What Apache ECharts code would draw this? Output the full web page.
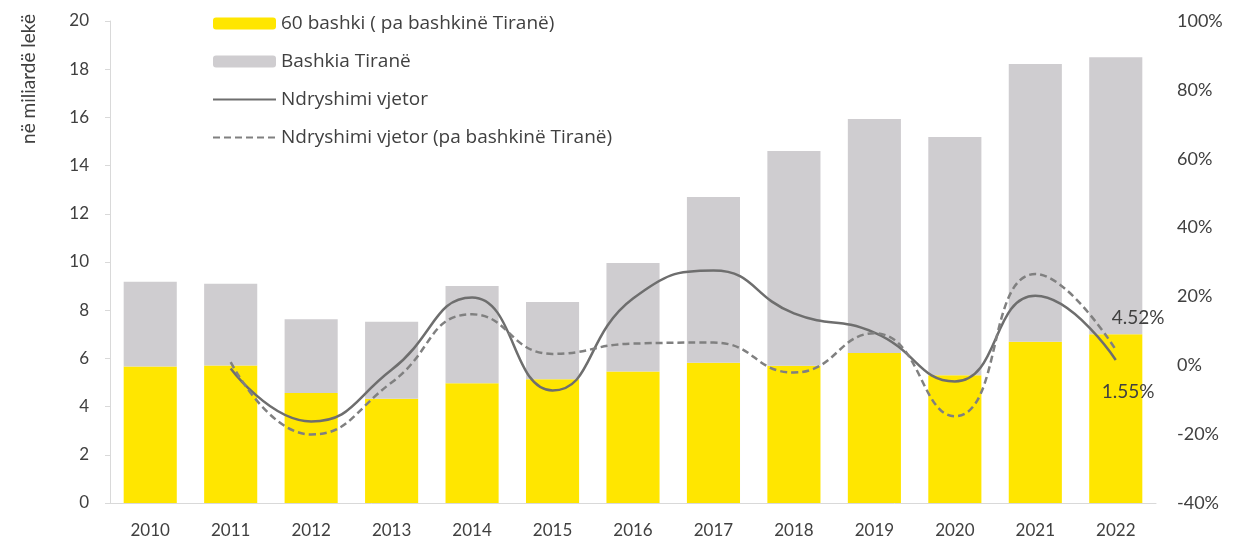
<!DOCTYPE html>
<html>
<head>
<meta charset="utf-8">
<script src="https://cdn.jsdelivr.net/npm/echarts@6/dist/echarts.min.js"></script>
<style>
  html, body { margin: 0; padding: 0; background: #fff; }
  #chart { width: 1236px; height: 542px; }
</style>
</head>
<body>
<div id="chart"></div>
<script>
  // vitet
  var years = ['2010', '2011', '2012', '2013', '2014', '2015', '2016', '2017', '2018', '2019', '2020', '2021', '2022'];
  // 60 bashki pa Tiranen (miliarde leke)
  var bashki60 = [5.66, 5.71, 4.56, 4.33, 4.97, 5.14, 5.46, 5.82, 5.70, 6.22, 5.30, 6.69, 7.00];
  // Bashkia Tirane (pjesa mbi te verdhen)
  var tirana = [3.52, 3.39, 3.06, 3.19, 4.03, 3.20, 4.50, 6.88, 8.91, 9.71, 9.89, 11.53, 11.50];
  // ndryshimi vjetor ne %
  var ndryshimi = [null, -0.9, -16.3, -1.3, 19.7, -7.3, 19.4, 27.5, 15.1, 9.5, -4.7, 20.2, 1.55];
  var ndryshimiPaTirane = [null, 0.9, -20.1, -5.0, 14.8, 3.3, 6.3, 6.6, -2.1, 9.3, -14.8, 26.5, 4.52];

  var leftTicks = [0, 2, 4, 6, 8, 10, 12, 14, 16, 18, 20];
  var rightTicks = [-40, -20, 0, 20, 40, 60, 80, 100];

  var font = 'Lato, "Open Sans", sans-serif';
  var txt = '#404040';

  function endLabel(offset) {
    return {
      show: true,
      offset: offset,
      formatter: function (p) { return p.value.toFixed(2) + '%'; },
      fontFamily: font,
      fontSize: 19,
      color: txt
    };
  }

  var chart = echarts.init(document.getElementById('chart'));
  chart.setOption({
    animation: false,
    textStyle: { fontFamily: font },
    grid: { left: 110, right: 80, top: 21, bottom: 39 },
    legend: {
      orient: 'vertical',
      left: 207,
      top: 9,
      itemWidth: 63,
      itemHeight: 12,
      itemGap: 19,
      textStyle: { fontFamily: '"Open Sans", Lato, sans-serif', fontSize: 19, color: txt },
      data: [
        { name: '60 bashki ( pa bashkinë Tiranë)' },
        { name: 'Bashkia Tiranë' },
        { name: 'Ndryshimi vjetor', itemStyle: { opacity: 0 } },
        { name: 'Ndryshimi vjetor (pa bashkinë Tiranë)', itemStyle: { opacity: 0 } }
      ]
    },
    graphic: [{
      type: 'text',
      left: 19,
      top: 14,
      rotation: Math.PI / 2,
      style: { text: 'në miliardë lekë', fill: txt, font: '19px ' + font }
    }],
    xAxis: {
      type: 'category',
      data: years,
      axisLine: { lineStyle: { color: '#d9d9d9' } },
      axisTick: { length: 6, lineStyle: { color: '#d9d9d9' } },
      axisLabel: { color: txt, fontSize: 17, margin: 19, fontFamily: font }
    },
    yAxis: [{
      type: 'value',
      min: leftTicks[0],
      max: leftTicks[leftTicks.length - 1],
      interval: 2,
      axisLine: { show: true, lineStyle: { color: '#d9d9d9' } },
      axisTick: { show: true, inside: false, length: 5, lineStyle: { color: '#d9d9d9' } },
      splitLine: { show: false },
      axisLabel: { color: txt, fontSize: 17, margin: 21, fontFamily: font }
    }, {
      type: 'value',
      min: rightTicks[0],
      max: rightTicks[rightTicks.length - 1],
      interval: 20,
      position: 'right',
      axisLine: { show: false },
      axisTick: { show: false },
      splitLine: { show: false },
      axisLabel: { color: txt, fontSize: 18, margin: 21, fontFamily: font, formatter: '{value}%' }
    }],
    series: [{
      name: '60 bashki ( pa bashkinë Tiranë)',
      type: 'bar',
      stack: 'total',
      barCategoryGap: '34%',
      itemStyle: { color: '#ffe600' },
      data: bashki60
    }, {
      name: 'Bashkia Tiranë',
      type: 'bar',
      stack: 'total',
      itemStyle: { color: '#cfcdd0' },
      data: tirana
    }, {
      name: 'Ndryshimi vjetor',
      type: 'line',
      yAxisIndex: 1,
      smooth: 0.5,
      symbol: 'none',
      lineStyle: { color: '#6e6e6e', width: 2.5 },
      itemStyle: { color: '#6e6e6e' },
      endLabel: endLabel([-22, 32]),
      data: ndryshimi
    }, {
      name: 'Ndryshimi vjetor (pa bashkinë Tiranë)',
      type: 'line',
      yAxisIndex: 1,
      smooth: 0.5,
      symbol: 'none',
      lineStyle: { color: '#808080', width: 2.5, type: [7, 4] },
      itemStyle: { color: '#808080' },
      endLabel: endLabel([-12, -32]),
      data: ndryshimiPaTirane
    }]
  });
</script>
</body>
</html>
